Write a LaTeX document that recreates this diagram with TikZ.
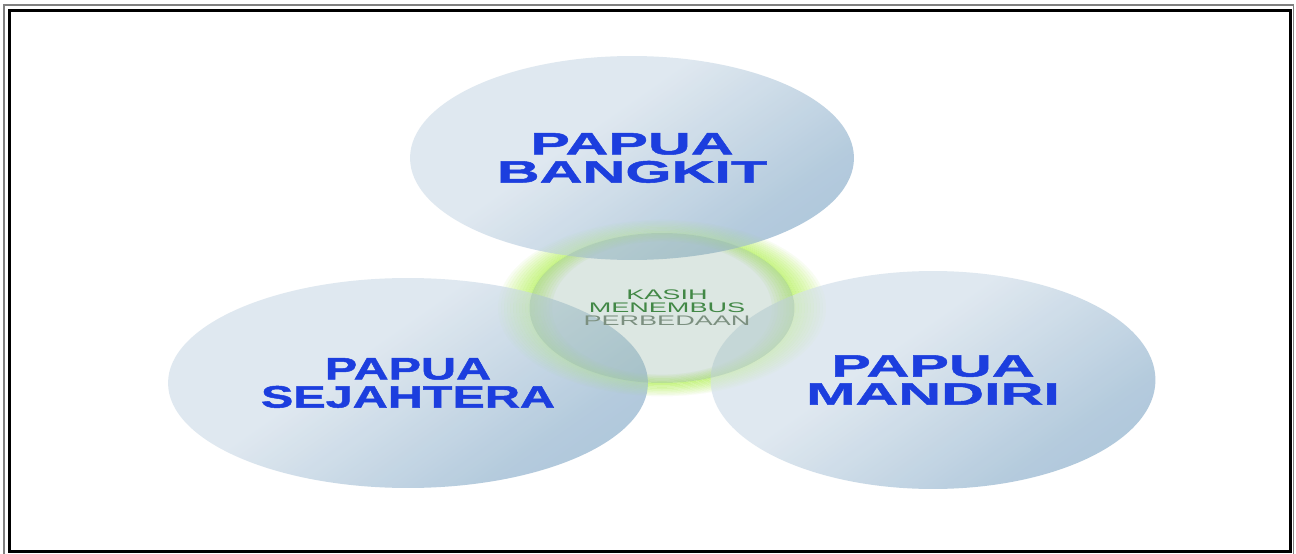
\documentclass[tikz,border=0pt]{standalone}
\usepackage{fontspec}
\setmainfont{Liberation Sans}
\newfontfamily\bubblefont[FakeStretch=1.92,FakeBold=1.6]{Liberation Sans}
\newfontfamily\bubblenarrowfont[FakeStretch=1.57,FakeBold=1.6]{Liberation Sans}
\newfontfamily\kasihfont[FakeStretch=1.95]{Liberation Sans}
\usetikzlibrary{shapes.geometric}

\definecolor{papuablue}{RGB}{28,62,222}
\definecolor{bubblelight}{RGB}{219,229,238}
\definecolor{bubbledark}{RGB}{148,181,207}
\definecolor{glowgreen}{RGB}{190,244,110}
\definecolor{kasihfill}{RGB}{140,176,160}
\definecolor{kasihgreen}{RGB}{66,136,70}
\definecolor{kasihgrey}{RGB}{124,144,128}

\pgfdeclareverticalshading{bubbleshade}{100bp}{color(0bp)=(bubbledark);
  color(30bp)=(bubbledark!70!bubblelight); color(58bp)=(bubblelight);
  color(100bp)=(bubblelight)}

% soft green ring, #1 = peak opacity
\newcommand\glowring[1]{%
  \foreach \s in {-7,...,10}{
    \pgfmathsetmacro\o{\s<0 ? #1*(1+\s/8) : #1*(1-\s/11)}
    \fill[glowgreen, fill opacity=\o, even odd rule] (662,308)
      ellipse ({131+3*\s} and {75+1.2*\s}) ellipse ({134+3*\s} and {76.2+1.2*\s});
  }}

\begin{document}
\begin{tikzpicture}[x=0.02cm,y=-0.02cm,
  bubble/.style={ellipse, inner sep=0pt, shading=bubbleshade, shading angle=35,
    fill opacity=0.87, text opacity=1, text=papuablue, align=center,
    font=\bubblefont\bfseries\fontsize{17.6}{16}\selectfont},
  kasih/.style={ellipse, inner sep=0pt, fill=kasihfill, fill opacity=0.3},
  kasihtext/.style={align=center, font=\kasihfont\fontsize{7.9}{7.4}\selectfont}]
\useasboundingbox (0,0) rectangle (1296,554);
\fill[white] (0,0) rectangle (1296,554);
% frame
\draw[gray, line width=0.7pt] (4,5) rectangle (1293.5,558);
\draw[black, line width=1.7pt] (9.5,10.5) rectangle (1290,551.5);

% glow round the middle
\glowring{0.75}

% the three bubbles
\node[bubble, minimum width=8.88cm, minimum height=4.08cm] (bangkit) at (632,158) {PAPUA\\BANGKIT};
\node[bubble, minimum width=9.6cm, minimum height=4.2cm,
  font=\bubblenarrowfont\bfseries\fontsize{17.6}{16}\selectfont] (sejahtera) at (408,383) {PAPUA\\SEJAHTERA};
\node[bubble, minimum width=8.9cm, minimum height=4.36cm] (mandiri) at (933,380) {PAPUA\\MANDIRI};

% middle
\glowring{0.22}
\node[kasih, minimum width=5.3cm, minimum height=3.0cm] (kasih) at (662,308) {};
\node[kasihtext] (kasihlabel) at (667,308)
  {\textcolor{kasihgreen}{KASIH}\\\textcolor{kasihgreen}{MENEMBUS}\\\textcolor{kasihgrey}{PERBEDAAN}};
\end{tikzpicture}
\end{document}
